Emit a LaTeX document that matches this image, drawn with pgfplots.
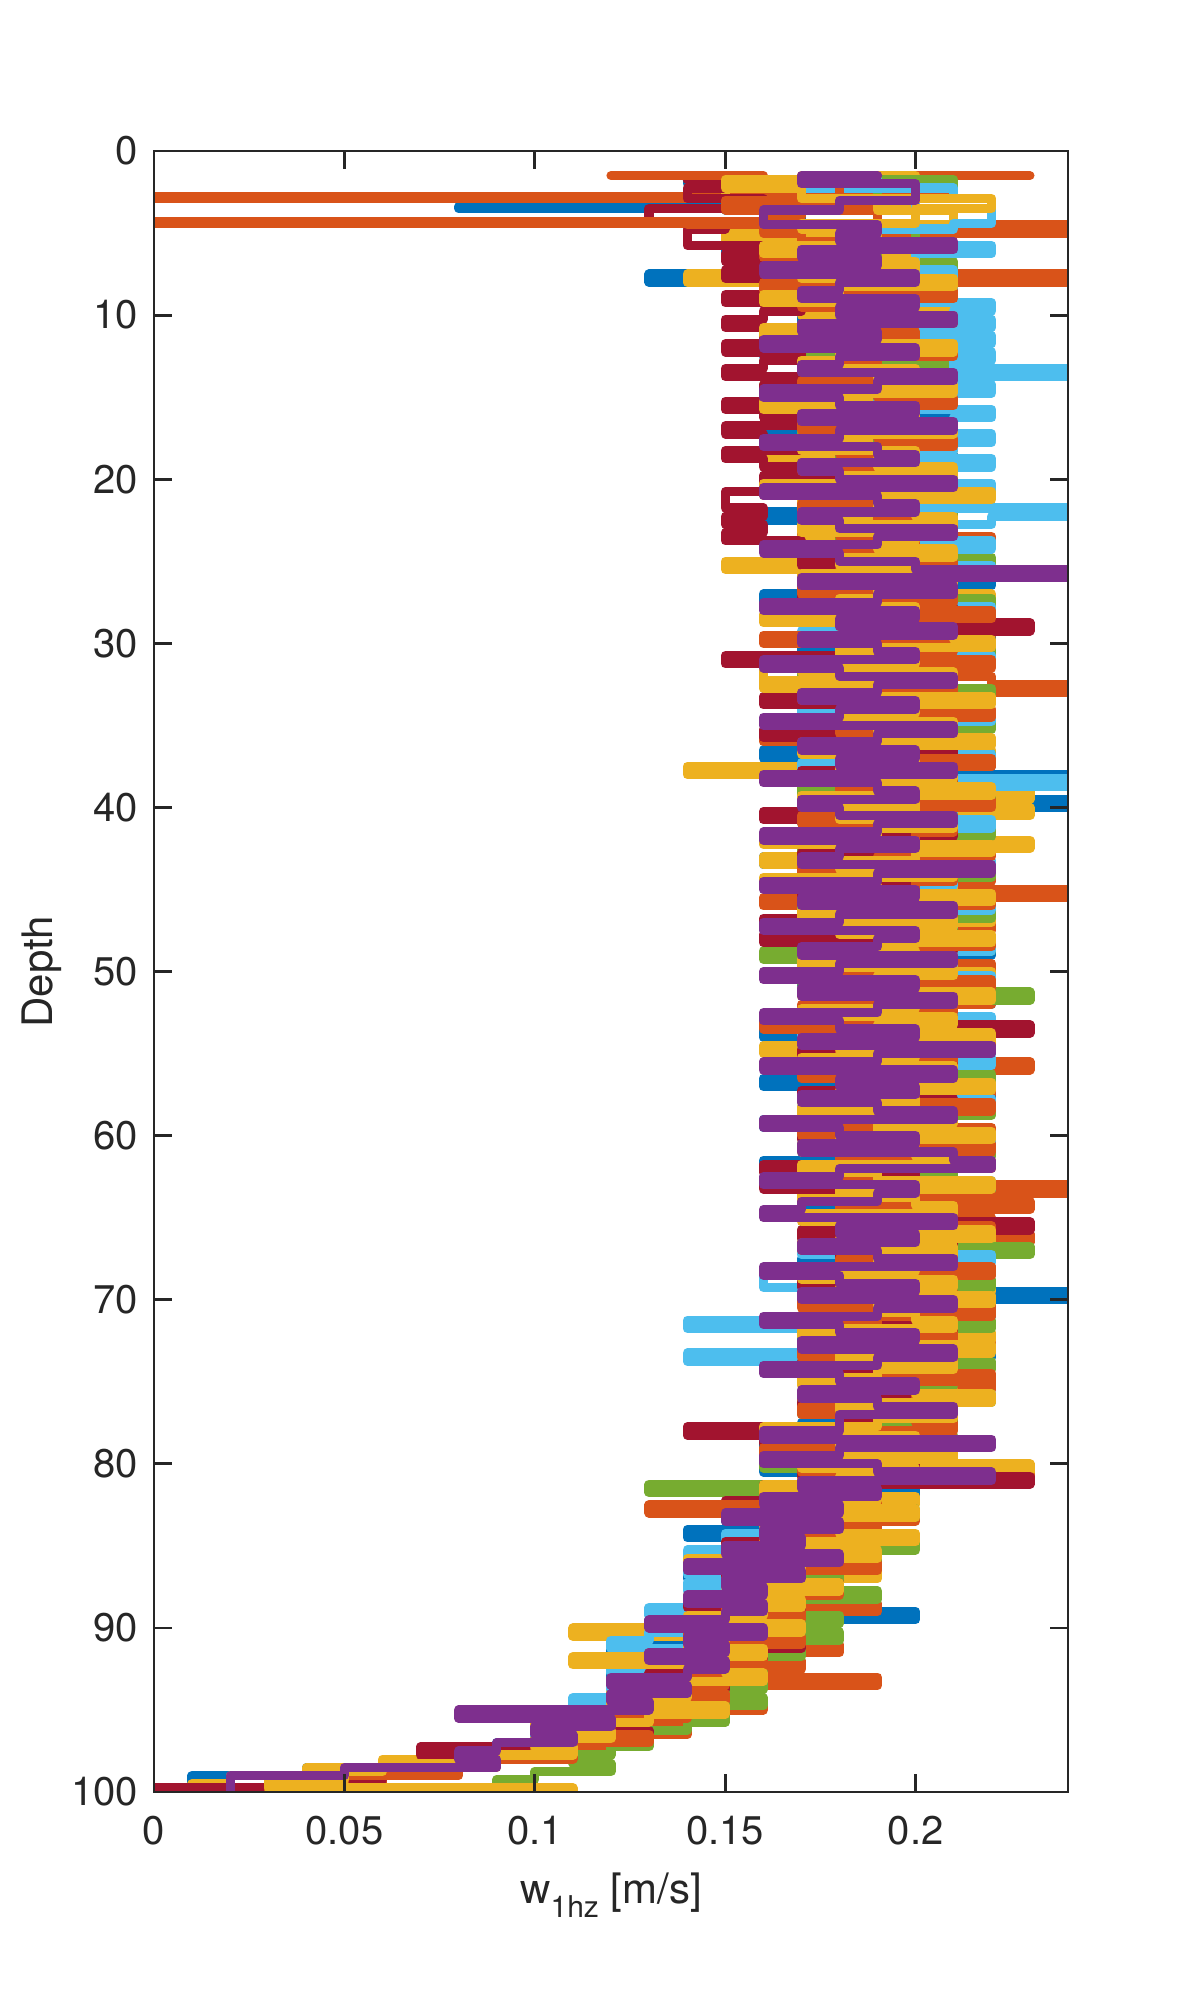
\documentclass[border=0pt]{standalone}
\usepackage{fontspec}
\setmainfont{TeX Gyre Heros}
\usepackage{pgfplots}
\usepackage{pgfplotstable}
\pgfplotsset{compat=1.18}
\definecolor{mb}{rgb}{0,0.447,0.741}
\definecolor{mo}{rgb}{0.85,0.325,0.098}
\definecolor{my}{rgb}{0.929,0.694,0.125}
\definecolor{mp}{rgb}{0.494,0.184,0.556}
\definecolor{mg}{rgb}{0.466,0.674,0.188}
\definecolor{mc}{rgb}{0.301,0.745,0.933}
\definecolor{mr}{rgb}{0.635,0.078,0.184}
\definecolor{ax}{rgb}{0.15,0.15,0.15}
\pgfplotstableread{
d d2 b o y g c r oo yy p
1.5 1.75 0.15 0.23 0.17 0.16 0.19 0.14 0.12 0.18 0.19
2.0 2.25 0.14 0.18 0.20 0.21 0.17 0.15 0.16 0.15 0.17
2.5 2.75 0.16 0.21 0.15 0.19 0.21 0.14 0.18 0.17 0.20
2.8 2.8 0.16 0.17 0.15 0.19 0.21 0.14 0.18 0.17 0.20
2.9 2.9 0.16 0.00 0.15 0.19 0.21 0.14 0.18 0.17 0.20
3.0 3.25 0.16 0.16 0.15 0.17 0.20 0.16 0.18 0.22 0.20
3.4 3.4 0.15 0.16 0.19 0.17 0.20 0.16 0.15 0.22 0.18
3.5 3.5 0.08 0.16 0.19 0.17 0.20 0.16 0.15 0.22 0.18
3.6 3.75 0.15 0.16 0.19 0.16 0.22 0.13 0.15 0.20 0.18
4.0 4.25 0.17 0.19 0.21 0.16 0.22 0.13 0.17 0.20 0.16
4.3 4.3 0.17 0.19 0.21 0.16 0.22 0.13 0.16 0.20 0.16
4.4 4.4 0.17 0.19 0.21 0.16 0.22 0.13 0.00 0.20 0.16
4.5 4.75 0.17 0.19 0.21 0.18 0.21 0.15 0.14 0.17 0.16
5.0 5.25 0.15 0.24 0.18 0.20 0.19 0.14 0.16 0.19 0.19
5.5 5.75 0.16 0.18 0.15 0.20 0.19 0.14 0.17 0.19 0.18
6.0 6.25 0.18 0.16 0.19 0.17 0.22 0.16 0.20 0.16 0.21
6.5 6.75 0.15 0.20 0.17 0.19 0.20 0.15 0.16 0.18 0.17
7.0 7.25 0.19 0.17 0.20 0.21 0.18 0.17 0.19 0.20 0.19
7.5 7.75 0.17 0.21 0.16 0.18 0.21 0.15 0.18 0.17 0.16
8.0 8.25 0.13 0.24 0.14 0.20 0.19 0.16 0.20 0.21 0.20
8.5 8.75 0.18 0.18 0.19 0.16 0.21 0.17 0.16 0.18 0.18
9.0 9.25 0.16 0.20 0.17 0.21 0.20 0.15 0.21 0.16 0.17
9.5 9.75 0.20 0.17 0.21 0.18 0.22 0.17 0.17 0.20 0.20
10.0 10.25 0.21 0.18 0.17 0.20 0.21 0.16 0.19 0.20 0.18
10.5 10.75 0.17 0.20 0.19 0.18 0.22 0.15 0.21 0.18 0.21
11.0 11.25 0.19 0.17 0.21 0.20 0.19 0.17 0.18 0.16 0.17
11.5 11.75 0.20 0.19 0.16 0.21 0.22 0.16 0.20 0.19 0.19
12.0 12.25 0.18 0.21 0.19 0.17 0.20 0.15 0.17 0.21 0.16
12.5 12.75 0.16 0.18 0.20 0.19 0.22 0.17 0.21 0.18 0.20
13.0 13.25 0.20 0.20 0.18 0.21 0.21 0.16 0.19 0.17 0.18
13.5 13.75 0.19 0.17 0.20 0.18 0.24 0.15 0.18 0.20 0.17
14.0 14.25 0.21 0.19 0.17 0.20 0.20 0.17 0.20 0.19 0.21
14.5 14.75 0.18 0.21 0.19 0.16 0.22 0.16 0.17 0.21 0.19
15.0 15.25 0.17 0.18 0.21 0.19 0.21 0.18 0.19 0.18 0.16
15.5 15.75 0.20 0.20 0.18 0.21 0.19 0.15 0.21 0.16 0.18
16.0 16.25 0.19 0.16 0.20 0.18 0.22 0.16 0.18 0.20 0.20
16.5 16.75 0.21 0.19 0.17 0.20 0.21 0.17 0.20 0.19 0.17
17.0 17.25 0.18 0.21 0.19 0.17 0.20 0.15 0.17 0.21 0.21
17.5 17.75 0.16 0.18 0.21 0.19 0.22 0.16 0.19 0.18 0.18
18.0 18.25 0.20 0.20 0.18 0.21 0.21 0.17 0.21 0.17 0.16
18.5 18.75 0.19 0.17 0.20 0.18 0.19 0.15 0.18 0.20 0.19
19.0 19.25 0.21 0.19 0.16 0.20 0.22 0.16 0.20 0.19 0.20
19.5 19.75 0.18 0.21 0.19 0.19 0.21 0.18 0.17 0.21 0.17
20.0 20.25 0.17 0.18 0.21 0.21 0.20 0.16 0.19 0.18 0.18
20.5 20.75 0.20 0.20 0.18 0.17 0.22 0.17 0.21 0.16 0.21
21.0 21.25 0.19 0.16 0.20 0.20 0.21 0.15 0.18 0.22 0.16
21.5 21.75 0.21 0.19 0.17 0.18 0.20 0.15 0.20 0.19 0.19
22.0 22.25 0.18 0.21 0.19 0.21 0.24 0.16 0.17 0.20 0.20
22.5 22.75 0.16 0.18 0.21 0.19 0.22 0.15 0.19 0.21 0.17
23.0 23.25 0.20 0.20 0.18 0.20 0.21 0.16 0.21 0.17 0.18
23.5 23.75 0.19 0.17 0.20 0.18 0.19 0.15 0.18 0.20 0.21
24.0 24.25 0.21 0.22 0.17 0.21 0.22 0.17 0.20 0.19 0.19
24.5 24.75 0.18 0.19 0.19 0.17 0.21 0.18 0.17 0.21 0.16
25.0 25.25 0.17 0.21 0.20 0.22 0.20 0.17 0.19 0.18 0.18
25.5 25.75 0.20 0.18 0.15 0.19 0.22 0.19 0.21 0.20 0.20
26.0 26.25 0.19 0.20 0.21 0.21 0.18 0.18 0.18 0.17 0.24
26.5 26.75 0.22 0.17 0.18 0.18 0.21 0.20 0.20 0.21 0.17
27.0 27.25 0.18 0.21 0.20 0.20 0.19 0.17 0.17 0.19 0.21
27.5 27.75 0.16 0.19 0.22 0.22 0.20 0.19 0.21 0.18 0.19
28.0 28.25 0.20 0.22 0.17 0.19 0.22 0.21 0.19 0.20 0.16
28.5 28.75 0.21 0.18 0.19 0.17 0.21 0.18 0.22 0.16 0.20
29.0 29.25 0.18 0.20 0.21 0.21 0.20 0.23 0.18 0.19 0.18
29.5 29.75 0.19 0.22 0.18 0.20 0.17 0.19 0.20 0.21 0.21
30.0 30.25 0.22 0.17 0.20 0.18 0.21 0.20 0.16 0.22 0.17
30.5 30.75 0.17 0.21 0.19 0.22 0.19 0.18 0.21 0.18 0.19
31.0 31.25 0.20 0.19 0.22 0.19 0.22 0.15 0.19 0.20 0.20
31.5 31.75 0.18 0.20 0.17 0.21 0.18 0.21 0.22 0.17 0.16
32.0 32.25 0.21 0.18 0.16 0.17 0.21 0.19 0.20 0.21 0.18
32.5 32.75 0.19 0.22 0.16 0.20 0.20 0.17 0.18 0.16 0.21
33.0 33.25 0.17 0.24 0.19 0.22 0.19 0.20 0.21 0.19 0.19
33.5 33.75 0.22 0.19 0.21 0.18 0.21 0.16 0.17 0.22 0.17
34.0 34.25 0.20 0.21 0.18 0.21 0.17 0.21 0.19 0.20 0.20
34.5 34.75 0.18 0.17 0.20 0.19 0.22 0.18 0.22 0.18 0.18
35.0 35.25 0.21 0.22 0.19 0.22 0.20 0.20 0.20 0.21 0.16
35.5 35.75 0.19 0.20 0.17 0.17 0.18 0.16 0.18 0.19 0.21
36.0 36.25 0.17 0.16 0.21 0.21 0.21 0.19 0.21 0.22 0.19
36.5 36.75 0.20 0.21 0.19 0.19 0.19 0.21 0.17 0.17 0.17
37.0 37.25 0.16 0.19 0.22 0.22 0.22 0.18 0.20 0.20 0.20
37.5 37.75 0.22 0.22 0.18 0.20 0.17 0.20 0.22 0.18 0.18
38.0 38.25 0.19 0.18 0.14 0.18 0.21 0.17 0.19 0.21 0.21
38.5 38.75 0.24 0.21 0.20 0.21 0.24 0.19 0.21 0.19 0.16
39.0 39.25 0.18 0.19 0.17 0.17 0.20 0.21 0.18 0.22 0.19
39.5 39.75 0.20 0.22 0.23 0.22 0.18 0.18 0.20 0.17 0.20
40.0 40.25 0.24 0.20 0.19 0.19 0.21 0.20 0.22 0.20 0.17
40.5 40.75 0.21 0.17 0.23 0.21 0.19 0.16 0.19 0.18 0.18
41.0 41.25 0.17 0.21 0.18 0.18 0.22 0.19 0.17 0.21 0.21
41.5 41.75 0.19 0.19 0.21 0.22 0.20 0.21 0.21 0.19 0.19
42.0 42.25 0.22 0.22 0.19 0.20 0.17 0.18 0.20 0.16 0.16
42.5 42.75 0.18 0.20 0.23 0.17 0.21 0.20 0.18 0.22 0.20
43.0 43.25 0.20 0.18 0.17 0.21 0.19 0.17 0.22 0.20 0.18
43.5 43.75 0.16 0.21 0.16 0.19 0.22 0.19 0.19 0.18 0.17
44.0 44.25 0.21 0.19 0.20 0.22 0.18 0.21 0.17 0.21 0.22
44.5 44.75 0.19 0.22 0.18 0.18 0.21 0.18 0.21 0.16 0.19
45.0 45.25 0.17 0.20 0.21 0.20 0.20 0.20 0.20 0.19 0.16
45.5 45.75 0.20 0.24 0.19 0.21 0.17 0.17 0.18 0.22 0.20
46.0 46.25 0.22 0.16 0.17 0.17 0.22 0.21 0.22 0.20 0.17
46.5 46.75 0.18 0.21 0.20 0.22 0.19 0.19 0.19 0.17 0.21
47.0 47.25 0.19 0.19 0.22 0.19 0.21 0.16 0.21 0.21 0.18
47.5 47.75 0.21 0.22 0.18 0.21 0.18 0.20 0.17 0.18 0.16
48.0 48.25 0.17 0.18 0.19 0.18 0.20 0.16 0.20 0.22 0.20
48.5 48.75 0.20 0.21 0.21 0.22 0.22 0.21 0.22 0.19 0.19
49.0 49.25 0.22 0.19 0.17 0.16 0.19 0.18 0.18 0.20 0.17
49.5 49.75 0.18 0.20 0.20 0.20 0.21 0.20 0.21 0.17 0.21
50.0 50.25 0.19 0.22 0.18 0.21 0.17 0.17 0.19 0.21 0.18
50.5 50.75 0.21 0.18 0.22 0.17 0.22 0.21 0.17 0.19 0.16
51.0 51.25 0.17 0.21 0.19 0.22 0.20 0.19 0.22 0.18 0.20
51.5 51.75 0.20 0.19 0.17 0.23 0.18 0.18 0.20 0.22 0.17
52.0 52.25 0.22 0.22 0.21 0.19 0.21 0.20 0.18 0.20 0.21
52.5 52.75 0.18 0.17 0.20 0.21 0.19 0.17 0.21 0.17 0.19
53.0 53.25 0.19 0.20 0.18 0.18 0.22 0.21 0.19 0.21 0.16
53.5 53.75 0.21 0.21 0.22 0.20 0.20 0.23 0.16 0.19 0.18
54.0 54.25 0.16 0.19 0.19 0.22 0.17 0.18 0.20 0.22 0.20
54.5 54.75 0.20 0.22 0.17 0.19 0.21 0.20 0.22 0.18 0.17
55.0 55.25 0.22 0.18 0.16 0.21 0.19 0.17 0.18 0.20 0.22
55.5 55.75 0.18 0.21 0.21 0.17 0.22 0.21 0.21 0.17 0.19
56.0 56.25 0.19 0.23 0.19 0.20 0.20 0.19 0.19 0.21 0.16
56.5 56.75 0.21 0.20 0.18 0.22 0.18 0.18 0.17 0.19 0.21
57.0 57.25 0.16 0.18 0.22 0.18 0.21 0.20 0.21 0.22 0.18
57.5 57.75 0.20 0.22 0.20 0.21 0.19 0.17 0.20 0.18 0.20
58.0 58.25 0.22 0.19 0.17 0.19 0.22 0.21 0.18 0.20 0.17
58.5 58.75 0.18 0.21 0.21 0.22 0.17 0.19 0.22 0.17 0.19
59.0 59.25 0.19 0.17 0.19 0.20 0.20 0.18 0.19 0.21 0.21
59.5 59.75 0.16 0.20 0.18 0.17 0.21 0.20 0.21 0.19 0.16
60.0 60.25 0.21 0.22 0.20 0.21 0.19 0.17 0.17 0.22 0.18
60.5 60.75 0.19 0.18 0.22 0.19 0.22 0.21 0.20 0.18 0.20
61.0 61.25 0.17 0.21 0.17 0.22 0.18 0.19 0.22 0.20 0.17
61.5 61.75 0.20 0.19 0.21 0.18 0.21 0.18 0.18 0.21 0.21
62.0 62.25 0.16 0.22 0.19 0.20 0.20 0.16 0.21 0.17 0.22
62.5 62.75 0.21 0.20 0.18 0.21 0.17 0.20 0.19 0.19 0.18
63.0 63.25 0.19 0.17 0.20 0.19 0.22 0.16 0.17 0.22 0.16
63.5 63.75 0.18 0.24 0.22 0.22 0.19 0.21 0.20 0.18 0.20
64.0 64.25 0.22 0.19 0.17 0.18 0.21 0.19 0.22 0.20 0.19
64.5 64.75 0.20 0.23 0.21 0.21 0.20 0.18 0.18 0.21 0.17
65.0 65.25 0.17 0.20 0.19 0.19 0.18 0.20 0.21 0.17 0.16
65.5 65.75 0.19 0.22 0.18 0.22 0.22 0.23 0.19 0.19 0.21
66.0 66.25 0.21 0.18 0.20 0.17 0.19 0.17 0.22 0.22 0.18
66.5 66.75 0.18 0.23 0.22 0.20 0.21 0.21 0.20 0.18 0.20
67.0 67.25 0.20 0.19 0.17 0.23 0.17 0.19 0.17 0.21 0.17
67.5 67.75 0.22 0.21 0.21 0.18 0.22 0.18 0.21 0.19 0.19
68.0 68.25 0.17 0.20 0.19 0.21 0.20 0.20 0.18 0.20 0.21
68.5 68.75 0.19 0.22 0.18 0.19 0.16 0.21 0.22 0.17 0.16
69.0 69.25 0.21 0.18 0.20 0.22 0.16 0.17 0.20 0.21 0.18
69.5 69.75 0.18 0.21 0.22 0.17 0.17 0.19 0.19 0.18 0.20
70.0 70.25 0.24 0.19 0.17 0.20 0.18 0.21 0.21 0.22 0.17
70.5 70.75 0.20 0.22 0.21 0.21 0.20 0.18 0.17 0.19 0.21
71.0 71.25 0.22 0.20 0.19 0.18 0.19 0.20 0.22 0.20 0.19
71.5 71.75 0.19 0.17 0.18 0.22 0.14 0.17 0.19 0.21 0.16
72.0 72.25 0.21 0.21 0.20 0.19 0.20 0.21 0.18 0.17 0.18
72.5 72.75 0.17 0.19 0.22 0.21 0.19 0.19 0.21 0.20 0.20
73.0 73.25 0.20 0.22 0.18 0.17 0.20 0.18 0.20 0.22 0.17
73.5 73.75 0.22 0.20 0.21 0.20 0.14 0.20 0.17 0.18 0.21
74.0 74.25 0.18 0.18 0.19 0.22 0.19 0.17 0.21 0.21 0.19
74.5 74.75 0.19 0.21 0.17 0.18 0.20 0.21 0.19 0.19 0.16
75.0 75.25 0.17 0.19 0.20 0.21 0.19 0.19 0.22 0.17 0.18
75.5 75.75 0.21 0.22 0.18 0.19 0.18 0.18 0.18 0.20 0.20
76.0 76.25 0.18 0.20 0.21 0.22 0.19 0.20 0.20 0.22 0.17
76.5 76.75 0.20 0.17 0.19 0.17 0.18 0.17 0.21 0.18 0.19
77.0 77.25 0.17 0.21 0.17 0.20 0.19 0.19 0.17 0.21 0.21
77.5 77.75 0.19 0.19 0.20 0.21 0.18 0.18 0.20 0.19 0.18
78.0 78.25 0.17 0.20 0.18 0.19 0.17 0.14 0.21 0.16 0.18
78.5 78.75 0.19 0.18 0.16 0.21 0.20 0.16 0.18 0.20 0.16
79.0 79.25 0.16 0.21 0.19 0.17 0.18 0.19 0.20 0.18 0.22
79.5 79.75 0.20 0.17 0.17 0.20 0.16 0.17 0.16 0.21 0.18
80.0 80.25 0.18 0.19 0.20 0.16 0.19 0.20 0.19 0.17 0.16
80.5 80.75 0.16 0.21 0.23 0.19 0.18 0.17 0.17 0.20 0.19
81.0 81.25 0.19 0.23 0.17 0.21 0.20 0.23 0.20 0.18 0.22
81.5 81.75 0.17 0.18 0.19 0.13 0.17 0.16 0.18 0.16 0.17
82.0 82.25 0.20 0.16 0.17 0.19 0.16 0.19 0.16 0.19 0.19
82.5 82.75 0.16 0.19 0.20 0.17 0.19 0.15 0.19 0.17 0.16
83.0 83.25 0.18 0.17 0.16 0.20 0.15 0.18 0.13 0.20 0.18
83.5 83.75 0.15 0.20 0.18 0.16 0.18 0.16 0.17 0.16 0.15
84.0 84.25 0.19 0.16 0.17 0.19 0.16 0.19 0.19 0.18 0.18
84.5 84.75 0.14 0.18 0.19 0.17 0.15 0.17 0.16 0.20 0.16
85.0 85.25 0.17 0.20 0.16 0.20 0.18 0.15 0.18 0.16 0.17
85.5 85.75 0.15 0.16 0.18 0.16 0.14 0.18 0.15 0.19 0.15
86.0 86.25 0.18 0.19 0.15 0.19 0.17 0.16 0.17 0.14 0.18
86.5 86.75 0.16 0.17 0.17 0.15 0.14 0.17 0.19 0.17 0.14
87.0 87.25 0.14 0.15 0.19 0.18 0.16 0.15 0.16 0.16 0.17
87.5 87.75 0.17 0.18 0.16 0.16 0.14 0.18 0.15 0.18 0.15
88.0 88.25 0.15 0.16 0.18 0.19 0.17 0.16 0.18 0.15 0.16
88.5 88.75 0.18 0.17 0.14 0.17 0.15 0.14 0.16 0.17 0.14
89.0 89.25 0.14 0.19 0.16 0.15 0.13 0.17 0.15 0.16 0.16
89.5 89.75 0.20 0.15 0.17 0.18 0.16 0.15 0.17 0.14 0.15
90.0 90.25 0.13 0.17 0.15 0.16 0.14 0.16 0.16 0.17 0.13
90.5 90.75 0.16 0.14 0.11 0.18 0.13 0.15 0.14 0.15 0.16
91.0 91.25 0.14 0.16 0.16 0.14 0.12 0.17 0.17 0.14 0.14
91.5 91.75 0.12 0.18 0.14 0.17 0.15 0.14 0.15 0.16 0.15
92.0 92.25 0.15 0.15 0.16 0.15 0.13 0.16 0.13 0.11 0.13
92.5 92.75 0.14 0.17 0.13 0.16 0.12 0.15 0.16 0.15 0.15
93.0 93.25 0.12 0.14 0.15 0.14 0.14 0.13 0.14 0.16 0.14
93.5 93.75 0.15 0.19 0.14 0.16 0.12 0.15 0.15 0.13 0.12
94.0 94.25 0.13 0.15 0.12 0.15 0.14 0.14 0.13 0.14 0.14
94.5 94.75 0.12 0.13 0.14 0.16 0.11 0.12 0.15 0.12 0.12
95.0 95.25 0.14 0.16 0.12 0.13 0.13 0.14 0.12 0.15 0.13
95.5 95.75 0.11 0.13 0.13 0.15 0.11 0.12 0.14 0.13 0.08
96.0 96.25 0.13 0.12 0.10 0.14 0.12 0.11 0.12 0.11 0.12
96.5 96.75 0.10 0.14 0.12 0.12 0.10 0.13 0.11 0.12 0.10
97.0 97.25 0.12 0.11 0.10 0.13 0.11 0.10 0.13 0.10 0.11
97.5 97.75 0.09 0.12 0.11 0.12 0.09 0.07 0.10 0.11 0.09
98.0 98.25 0.10 0.10 0.08 0.11 0.08 0.08 0.11 0.09 0.08
98.5 98.75 0.07 0.09 0.06 0.12 0.07 0.07 0.08 0.06 0.09
99.0 99.25 0.04 0.08 0.04 0.10 0.05 0.06 0.07 0.05 0.05
99.5 99.75 0.01 0.06 0.02 0.09 0.03 0.04 0.05 0.03 0.02
100.0 100.0 0.01 0.04 0.01 0.07 0.02 0.00 0.03 0.11 0.02
}\wdata
\begin{document}
\begin{tikzpicture}
\path[use as bounding box] (-38.5pt,-55.25pt) rectangle (256.75pt,448pt);
\begin{axis}[
  at={(0,0)}, anchor=south west,
  scale only axis, width=228.5pt, height=410.25pt,
  xmin=0, xmax=0.24, ymin=0, ymax=100,
  y dir=reverse,
  xtick={0,0.05,0.1,0.15,0.2},
  ytick={0,10,...,100},
  xticklabels={0,0.05,0.1,0.15,0.2},
  /pgf/number format/assume math mode=true,
  tick align=inside,
  major tick length=4.6pt,
  axis line style={ax, line width=0.7pt},
  every tick/.style={ax, line width=0.7pt},
  tick label style={font=\fontsize{10}{12}\selectfont, text=ax},
  xticklabel style={yshift=-2.5pt},
  yticklabel style={xshift=-0.5pt},
  label style={font=\fontsize{10.5}{12.5}\selectfont, text=ax},
  xlabel={w\raisebox{-3.5pt}{\fontsize{7.5}{9}\selectfont 1hz}\ [m/s]},
  ylabel={Depth},
  xlabel style={at={(axis description cs:0.5,-0.063)}, anchor=center},
  ylabel style={at={(axis description cs:-0.1225,0.5)}, anchor=center},
  axis on top,
  every axis plot/.append style={const plot mark left, line width=2.3pt, line join=round, line cap=round},
]
\addplot[mb] table[x=b,y=d]{\wdata};
\addplot[mo] table[x=o,y=d]{\wdata};
\addplot[my] table[x=y,y=d]{\wdata};
\addplot[mg] table[x=g,y=d2]{\wdata};
\addplot[mc] table[x=c,y=d2]{\wdata};
\addplot[mr] table[x=r,y=d2]{\wdata};
\addplot[mo] table[x=oo,y=d]{\wdata};
\addplot[my] table[x=yy,y=d2]{\wdata};
\addplot[mp] table[x=p,y=d]{\wdata};
\end{axis}
\end{tikzpicture}
\end{document}
